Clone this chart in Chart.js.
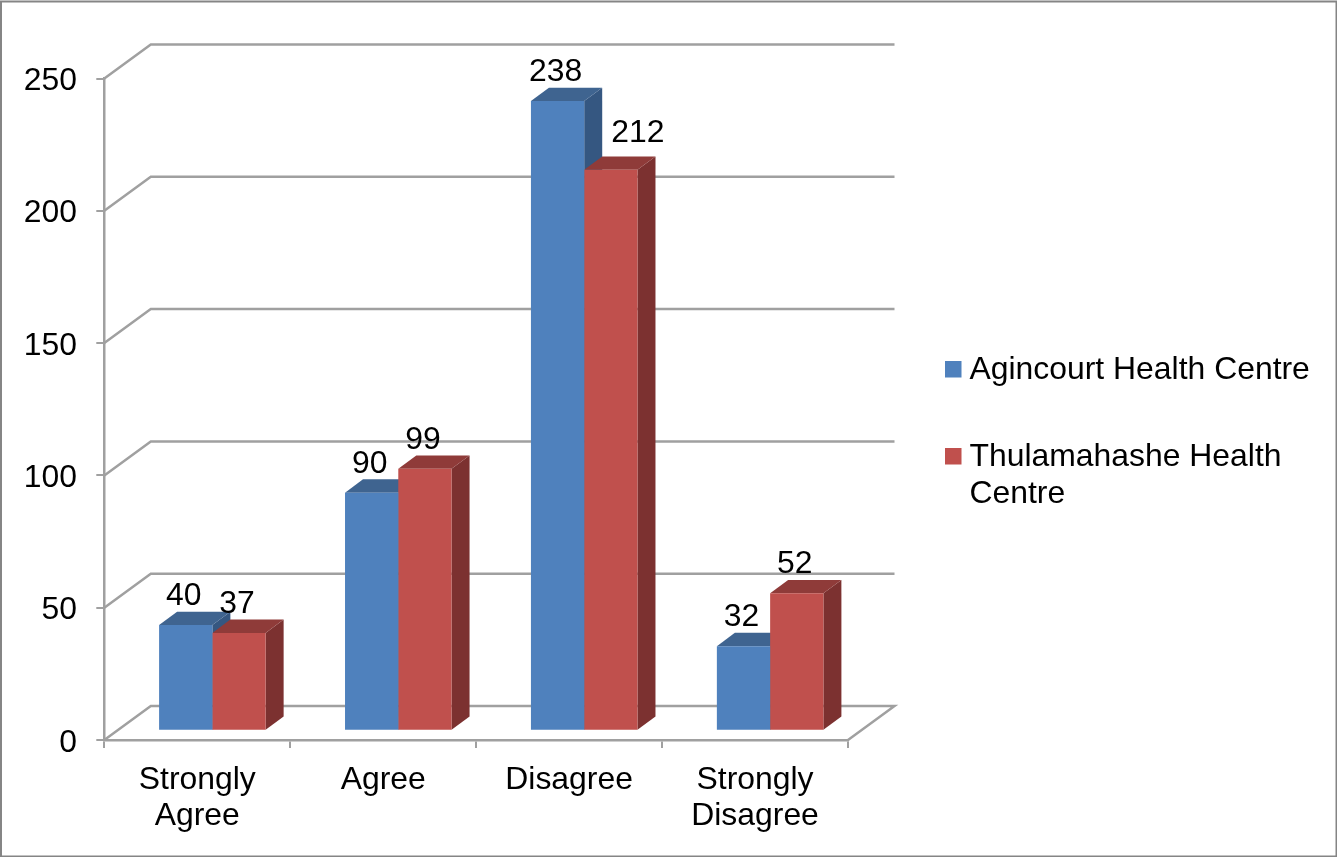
<!DOCTYPE html>
<html>
<head>
<meta charset="utf-8">
<title>Health centre responses</title>
<script src="https://cdn.jsdelivr.net/npm/chart.js@4/dist/chart.umd.min.js"></script>
<style>
  html, body { margin: 0; padding: 0; background: #fff; overflow: hidden; }
  #wrap { position: relative; width: 1337px; height: 857px; }
</style>
</head>
<body>
<div id="wrap"><canvas id="chart" width="1337" height="857"></canvas></div>
<script>
const categories = [["Strongly", "Agree"], "Agree", "Disagree", ["Strongly", "Disagree"]];
const agincourtLabel = "Agincourt Health Centre";
const thulamahasheLabel = "Thulamahashe Health Centre";
const agincourtValues = [40, 90, 238, 32];
const thulamahasheValues = [37, 99, 212, 52];
const yTicks = [0, 50, 100, 150, 200, 250];

const FONT = '"Liberation Sans", Arial, sans-serif';
const FONT_SIZE = 31.9;
const GRID = "#a0a0a0";

// Oblique projection used for the 3-D look
const WALL = { dx: 46.5, dy: -34 };
const BAR_SHIFT = { dx: 15.1, dy: -9.2 };
const BAR_DEPTH = { dx: 18, dy: -13.3 };

const seriesStyle = [
  { front: "#4f81bd", top: "#3f6490", side: "#355781" },
  { front: "#c0504d", top: "#8f3b39", side: "#7c3130" }
];

function poly(ctx, pts, fill) {
  ctx.beginPath();
  pts.forEach((p, i) => (i ? ctx.lineTo(p[0], p[1]) : ctx.moveTo(p[0], p[1])));
  ctx.closePath();
  ctx.fillStyle = fill;
  ctx.fill();
}

// Back wall and floor, drawn behind the bars
const wallPlugin = {
  id: "walls",
  beforeDatasetsDraw(chart) {
    const { ctx, scales: { y }, chartArea: a } = chart;
    ctx.save();
    ctx.strokeStyle = GRID;
    ctx.lineWidth = 2.5;
    yTicks.forEach(v => {
      const py = y.getPixelForValue(v);
      ctx.beginPath();
      ctx.moveTo(a.left, py);
      ctx.lineTo(a.left + WALL.dx, py + WALL.dy);
      ctx.lineTo(a.right + WALL.dx, py + WALL.dy);
      if (v === 0) ctx.lineTo(a.right, py);
      ctx.stroke();
    });
    ctx.restore();
  }
};

// Side and top faces of the bars, then shift the fronts onto the floor
const depthPlugin = {
  id: "barDepth",
  beforeDatasetsDraw(chart) {
    const { ctx } = chart;
    ctx.save();
    ctx.translate(BAR_SHIFT.dx, BAR_SHIFT.dy);
    [0, 1].forEach(d => {
      const style = seriesStyle[d];
      chart.getDatasetMeta(d).data.forEach(bar => {
        const l = bar.x - bar.width / 2, r = bar.x + bar.width / 2;
        const t = bar.y, b = bar.base;
        const { dx, dy } = BAR_DEPTH;
        poly(ctx, [[r, t], [r + dx, t + dy], [r + dx, b + dy], [r, b]], style.side);
        poly(ctx, [[l, t], [l + dx, t + dy], [r + dx, t + dy], [r, t]], style.top);
      });
    });
  },
  afterDatasetsDraw(chart) {
    chart.ctx.restore();
  }
};

// Value labels above the bars; the 212 label sits beside its neighbour's side face
const valuePlugin = {
  id: "valueLabels",
  afterDatasetsDraw(chart) {
    const { ctx } = chart;
    ctx.save();
    ctx.font = FONT_SIZE + "px " + FONT;
    ctx.fillStyle = "#000";
    ctx.textAlign = "center";
    ctx.textBaseline = "alphabetic";
    [0, 1].forEach(d => {
      chart.getDatasetMeta(d).data.forEach((bar, i) => {
        const v = chart.data.datasets[d].data[i];
        const nudge = v === 212 ? { x: 27, y: -8 } : { x: -2, y: 0 };
        ctx.fillText(String(v), bar.x + BAR_SHIFT.dx + nudge.x, bar.y + BAR_SHIFT.dy - 20 + nudge.y);
      });
    });
    ctx.restore();
  }
};

// Value-axis numbers, set a little below the tick marks
const yLabelPlugin = {
  id: "yLabels",
  afterDraw(chart) {
    const { ctx, scales: { y } } = chart;
    ctx.save();
    ctx.font = FONT_SIZE + "px " + FONT;
    ctx.fillStyle = "#000";
    ctx.textAlign = "right";
    ctx.textBaseline = "alphabetic";
    yTicks.forEach(v => ctx.fillText(String(v), 77, y.getPixelForValue(v) + 11.5));
    ctx.restore();
  }
};

// Legend at the right, with the long series name wrapped on two lines
const legendPlugin = {
  id: "sideLegend",
  afterDraw(chart) {
    const { ctx } = chart;
    const entries = [
      { lines: [agincourtLabel], style: seriesStyle[0], baseline: 379 },
      { lines: ["Thulamahashe Health", "Centre"], style: seriesStyle[1], baseline: 466 }
    ];
    ctx.save();
    ctx.font = FONT_SIZE + "px " + FONT;
    ctx.textBaseline = "alphabetic";
    entries.forEach(e => {
      ctx.fillStyle = e.style.front;
      ctx.fillRect(945, e.baseline - 18, 16.5, 16.5);
      ctx.fillStyle = "#000";
      e.lines.forEach((t, i) => ctx.fillText(t, 969.5, e.baseline + i * 37));
    });
    ctx.restore();
  }
};

// Grey frame round the whole chart
const framePlugin = {
  id: "frame",
  afterDraw(chart) {
    const { ctx, width, height } = chart;
    ctx.save();
    ctx.strokeStyle = "#858585";
    ctx.lineWidth = 2;
    ctx.strokeRect(1, 1.5, width - 1.5, height - 2);
    ctx.restore();
  }
};

new Chart(document.getElementById("chart"), {
  type: "bar",
  data: {
    labels: categories,
    datasets: [
      { label: agincourtLabel, data: agincourtValues, backgroundColor: seriesStyle[0].front, clip: false },
      { label: thulamahasheLabel, data: thulamahasheValues, backgroundColor: seriesStyle[1].front, clip: false }
    ]
  },
  options: {
    responsive: false,
    animation: false,
    layout: { padding: { left: 0, top: 78.5, right: 489, bottom: 0 } },
    plugins: { legend: { display: false }, tooltip: { enabled: false } },
    datasets: { bar: { categoryPercentage: 0.573, barPercentage: 1, borderWidth: 0 } },
    scales: {
      x: {
        grid: { offset: true, drawOnChartArea: false, color: GRID, lineWidth: 2, tickLength: 8 },
        border: { color: GRID, width: 2.5 },
        ticks: {
          color: "#000", maxRotation: 0, minRotation: 0, padding: 14,
          font: { family: FONT, size: FONT_SIZE, lineHeight: 1.13 }
        },
        afterFit(s) { s.height = 117; }
      },
      y: {
        min: 0, max: 250,
        grid: { drawOnChartArea: false, color: GRID, lineWidth: 2, tickLength: 8 },
        border: { color: GRID, width: 2.5 },
        afterBuildTicks(s) { s.ticks = yTicks.map(value => ({ value })); },
        ticks: { display: false },
        afterFit(s) { s.width = 104.3; }
      }
    }
  },
  plugins: [wallPlugin, depthPlugin, valuePlugin, yLabelPlugin, legendPlugin, framePlugin]
});
</script>
</body>
</html>
